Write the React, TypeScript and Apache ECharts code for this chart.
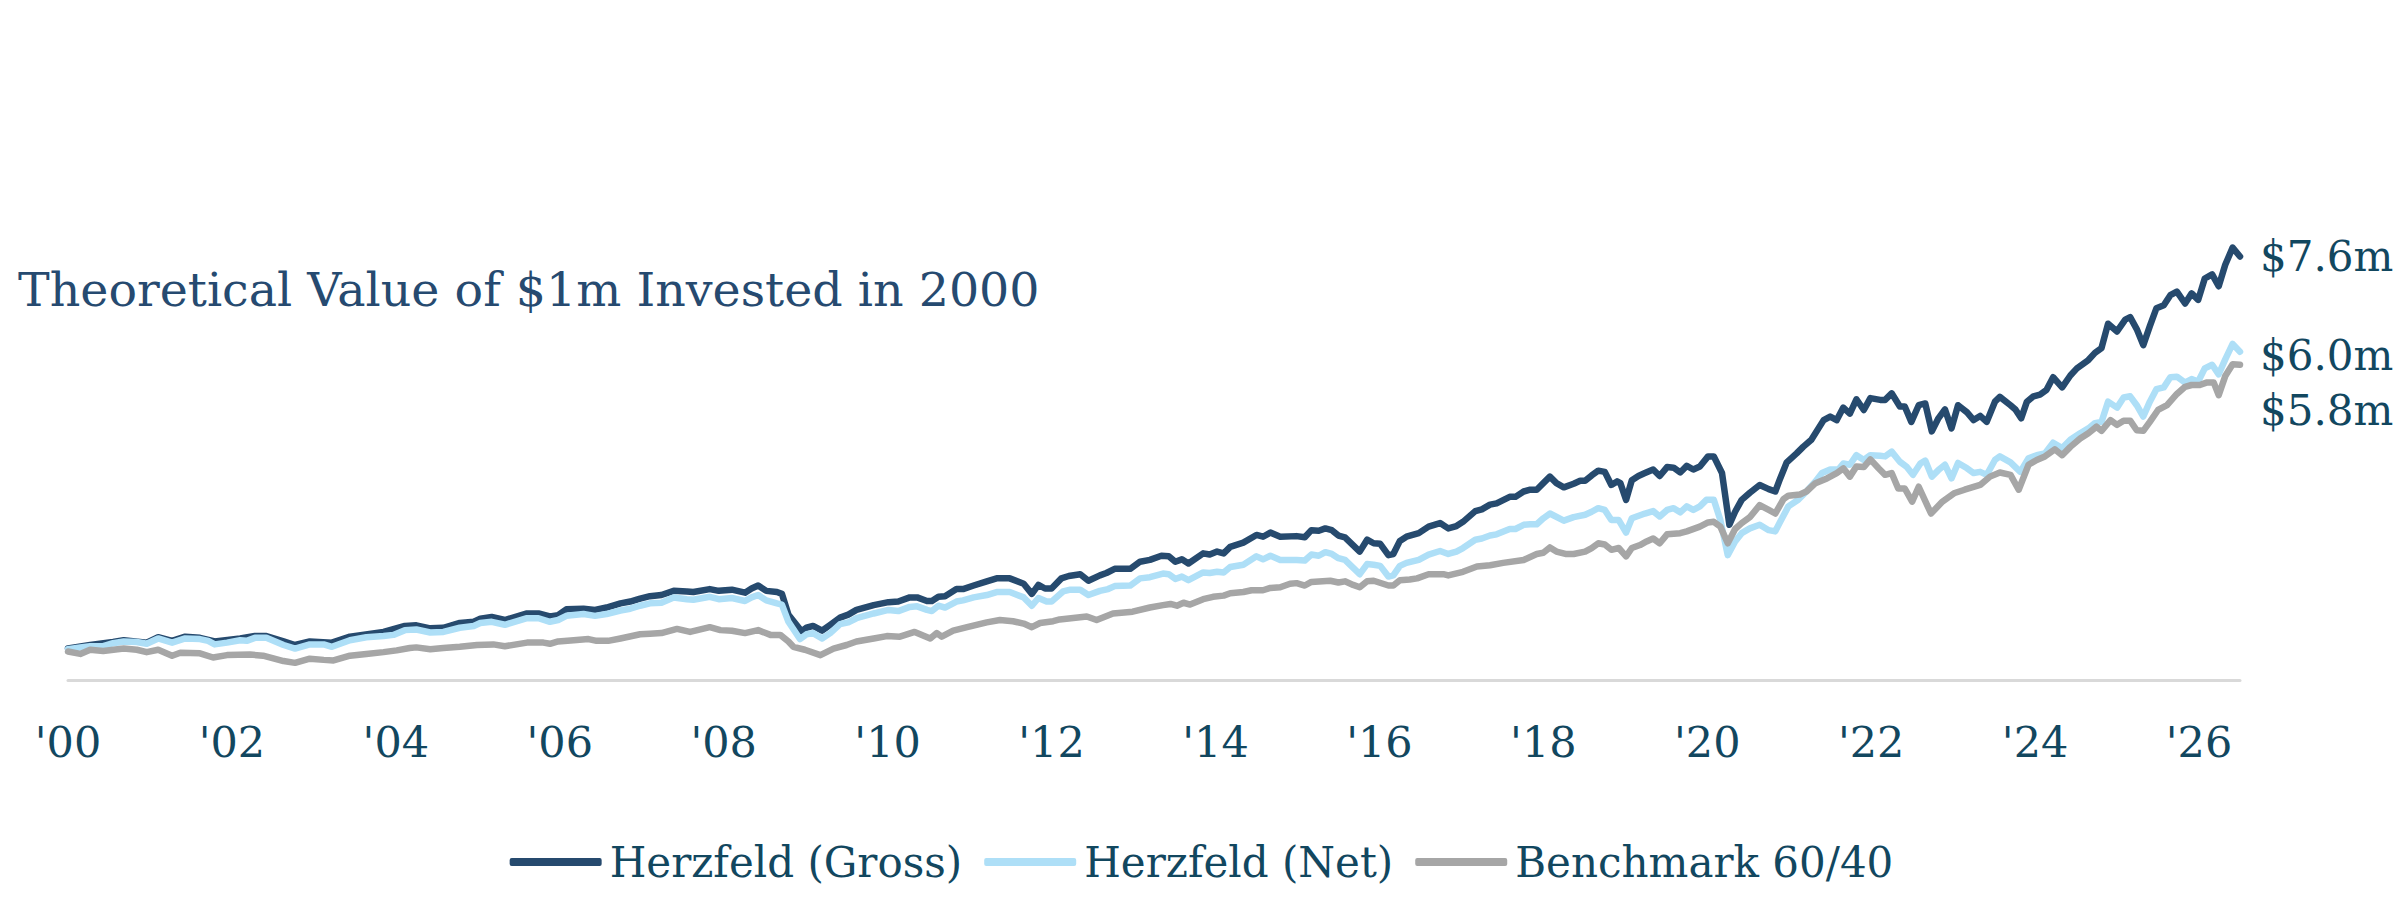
import React, { useEffect, useRef } from "react";
import * as echarts from "echarts";

const seriesNames = ["Herzfeld (Gross)", "Herzfeld (Net)", "Benchmark 60/40"];
const tickYears = [2000, 2002, 2004, 2006, 2008, 2010, 2012, 2014, 2016, 2018, 2020, 2022, 2024, 2026];
const titleText = "Theoretical Value of $1m Invested in 2000";

const gross: number[][] = [
  [2000.0, 0.99], [2000.27, 1.05], [2000.55, 1.1], [2000.68, 1.13], [2000.96, 1.09], [2001.1, 1.18], [2001.27, 1.12], [2001.43, 1.19], [2001.61, 1.17], [2001.79, 1.11],
  [2002.1, 1.16], [2002.28, 1.2], [2002.42, 1.2], [2002.63, 1.11], [2002.77, 1.05], [2002.95, 1.11], [2003.22, 1.09], [2003.44, 1.19], [2003.85, 1.27], [2004.11, 1.37],
  [2004.25, 1.38], [2004.42, 1.33], [2004.58, 1.34], [2004.78, 1.42], [2004.95, 1.44], [2005.03, 1.49], [2005.17, 1.52], [2005.33, 1.47], [2005.6, 1.58], [2005.74, 1.58],
  [2005.88, 1.53], [2005.98, 1.55], [2006.08, 1.65], [2006.29, 1.66], [2006.43, 1.64], [2006.57, 1.68], [2006.74, 1.75], [2006.86, 1.78], [2006.98, 1.83], [2007.1, 1.87],
  [2007.24, 1.89], [2007.39, 1.96], [2007.55, 1.95], [2007.63, 1.94], [2007.83, 1.99], [2007.94, 1.96], [2008.1, 1.98], [2008.26, 1.93], [2008.34, 2.0], [2008.42, 2.05],
  [2008.52, 1.96], [2008.65, 1.94], [2008.71, 1.91], [2008.79, 1.56], [2008.95, 1.28], [2009.01, 1.34], [2009.09, 1.37], [2009.2, 1.29], [2009.3, 1.39], [2009.42, 1.51],
  [2009.52, 1.56], [2009.62, 1.64], [2009.83, 1.72], [2010.01, 1.77], [2010.13, 1.78], [2010.27, 1.85], [2010.36, 1.85], [2010.48, 1.79], [2010.54, 1.79], [2010.62, 1.86],
  [2010.7, 1.87], [2010.84, 1.99], [2010.92, 1.99], [2011.05, 2.05], [2011.21, 2.12], [2011.33, 2.17], [2011.49, 2.17], [2011.66, 2.08], [2011.76, 1.91],
  [2011.84, 2.06], [2011.92, 2.0], [2012.0, 2.0], [2012.12, 2.17], [2012.21, 2.21], [2012.35, 2.24], [2012.45, 2.13], [2012.59, 2.22], [2012.67, 2.26], [2012.77, 2.33],
  [2012.96, 2.33], [2013.08, 2.45], [2013.2, 2.48], [2013.34, 2.55], [2013.43, 2.54], [2013.51, 2.45], [2013.59, 2.49], [2013.67, 2.42], [2013.85, 2.59], [2013.93, 2.57],
  [2014.02, 2.62], [2014.1, 2.59], [2014.18, 2.7], [2014.34, 2.77], [2014.5, 2.9], [2014.58, 2.87], [2014.67, 2.94], [2014.79, 2.87], [2014.99, 2.88], [2015.09, 2.86],
  [2015.17, 2.98], [2015.26, 2.97], [2015.34, 3.01], [2015.42, 2.98], [2015.5, 2.89], [2015.58, 2.86], [2015.76, 2.62], [2015.85, 2.82], [2015.93, 2.76], [2016.01, 2.75],
  [2016.11, 2.56], [2016.17, 2.58], [2016.25, 2.8], [2016.33, 2.87], [2016.48, 2.93], [2016.6, 3.04], [2016.74, 3.1], [2016.84, 3.01], [2016.94, 3.05], [2017.02, 3.12],
  [2017.17, 3.3], [2017.25, 3.33], [2017.35, 3.41], [2017.43, 3.43], [2017.59, 3.54], [2017.66, 3.54], [2017.76, 3.63], [2017.84, 3.66], [2017.92, 3.66], [2018.0, 3.77],
  [2018.08, 3.88], [2018.16, 3.77], [2018.25, 3.7], [2018.37, 3.76], [2018.45, 3.81], [2018.51, 3.81], [2018.59, 3.9], [2018.67, 3.98], [2018.75, 3.96], [2018.83, 3.74],
  [2018.9, 3.8], [2018.94, 3.77], [2019.01, 3.49], [2019.08, 3.82], [2019.16, 3.89], [2019.24, 3.94], [2019.34, 4.0], [2019.42, 3.89], [2019.51, 4.04], [2019.59, 4.03],
  [2019.67, 3.95], [2019.75, 4.06], [2019.83, 4.0], [2019.91, 4.05], [2020.01, 4.22], [2020.08, 4.22], [2020.18, 3.94], [2020.27, 3.07], [2020.34, 3.29], [2020.42, 3.49],
  [2020.52, 3.61], [2020.64, 3.74], [2020.75, 3.67], [2020.83, 3.63], [2020.89, 3.85], [2020.97, 4.12], [2021.09, 4.27], [2021.17, 4.38], [2021.27, 4.5], [2021.42, 4.83],
  [2021.5, 4.89], [2021.58, 4.83], [2021.66, 5.04], [2021.74, 4.94], [2021.82, 5.18], [2021.91, 5.0], [2021.99, 5.2], [2022.11, 5.17], [2022.17, 5.17], [2022.25, 5.28],
  [2022.35, 5.06], [2022.41, 5.06], [2022.49, 4.8], [2022.58, 5.08], [2022.66, 5.11], [2022.74, 4.64], [2022.82, 4.86], [2022.9, 5.01], [2022.98, 4.69], [2023.06, 5.08],
  [2023.17, 4.96], [2023.25, 4.83], [2023.33, 4.9], [2023.41, 4.8], [2023.51, 5.14], [2023.57, 5.22], [2023.7, 5.08], [2023.76, 5.01], [2023.83, 4.86], [2023.9, 5.14],
  [2023.98, 5.23], [2024.06, 5.26], [2024.14, 5.34], [2024.22, 5.55], [2024.33, 5.38], [2024.43, 5.58], [2024.51, 5.7], [2024.65, 5.84], [2024.73, 5.96], [2024.81, 6.04],
  [2024.89, 6.45], [2025.0, 6.32], [2025.1, 6.52], [2025.16, 6.56], [2025.24, 6.36], [2025.32, 6.09], [2025.4, 6.41], [2025.48, 6.71], [2025.57, 6.76], [2025.65, 6.93],
  [2025.73, 6.99], [2025.83, 6.79], [2025.91, 6.96], [2025.99, 6.85], [2026.07, 7.21], [2026.16, 7.28], [2026.24, 7.08], [2026.32, 7.44], [2026.41, 7.73], [2026.5, 7.58],
];

const net: number[][] = [
  [2000.0, 0.98], [2000.15, 1.01], [2000.27, 1.03], [2000.43, 1.03], [2000.55, 1.08], [2000.68, 1.11], [2000.84, 1.1], [2000.96, 1.07], [2001.1, 1.16], [2001.27, 1.09],
  [2001.43, 1.16], [2001.61, 1.15], [2001.71, 1.12], [2001.79, 1.06], [2001.94, 1.09], [2002.1, 1.13], [2002.18, 1.12], [2002.28, 1.17], [2002.42, 1.17], [2002.63, 1.05],
  [2002.77, 0.99], [2002.95, 1.06], [2003.12, 1.06], [2003.22, 1.02], [2003.44, 1.13], [2003.64, 1.18], [2003.85, 1.2], [2003.97, 1.22], [2004.11, 1.3], [2004.25, 1.31],
  [2004.42, 1.26], [2004.58, 1.27], [2004.78, 1.34], [2004.95, 1.37], [2005.03, 1.42], [2005.17, 1.44], [2005.33, 1.39], [2005.6, 1.5], [2005.74, 1.5],
  [2005.88, 1.44], [2005.98, 1.47], [2006.08, 1.54], [2006.29, 1.57], [2006.43, 1.54], [2006.57, 1.57], [2006.74, 1.63], [2006.86, 1.66], [2006.98, 1.71], [2007.1, 1.75],
  [2007.24, 1.76], [2007.39, 1.85], [2007.55, 1.82], [2007.63, 1.81], [2007.83, 1.86], [2007.94, 1.82], [2008.1, 1.84], [2008.26, 1.79], [2008.34, 1.85], [2008.42, 1.89],
  [2008.52, 1.8], [2008.65, 1.75], [2008.71, 1.73], [2008.79, 1.44], [2008.93, 1.15], [2009.01, 1.23], [2009.09, 1.25], [2009.2, 1.16], [2009.3, 1.25], [2009.42, 1.4],
  [2009.52, 1.43], [2009.62, 1.5], [2009.83, 1.58], [2010.01, 1.64], [2010.13, 1.62], [2010.27, 1.69], [2010.36, 1.7], [2010.48, 1.64], [2010.54, 1.62], [2010.62, 1.71],
  [2010.7, 1.68], [2010.84, 1.78], [2010.92, 1.8], [2011.05, 1.85], [2011.21, 1.89], [2011.33, 1.94], [2011.49, 1.94], [2011.66, 1.85], [2011.76, 1.71],
  [2011.84, 1.84], [2011.94, 1.78], [2012.0, 1.78], [2012.14, 1.95], [2012.23, 1.98], [2012.35, 1.98], [2012.45, 1.89], [2012.59, 1.96], [2012.69, 1.99], [2012.77, 2.04],
  [2012.96, 2.05], [2013.08, 2.17], [2013.2, 2.19], [2013.36, 2.25], [2013.43, 2.24], [2013.51, 2.16], [2013.59, 2.2], [2013.67, 2.14], [2013.85, 2.27], [2013.93, 2.26],
  [2014.02, 2.28], [2014.1, 2.27], [2014.18, 2.36], [2014.34, 2.4], [2014.5, 2.54], [2014.58, 2.49], [2014.67, 2.55], [2014.79, 2.48], [2014.99, 2.48], [2015.09, 2.47],
  [2015.17, 2.57], [2015.26, 2.55], [2015.34, 2.61], [2015.42, 2.58], [2015.5, 2.51], [2015.58, 2.48], [2015.76, 2.24], [2015.85, 2.41], [2015.93, 2.4], [2016.01, 2.38],
  [2016.11, 2.2], [2016.17, 2.22], [2016.25, 2.38], [2016.33, 2.43], [2016.48, 2.48], [2016.6, 2.57], [2016.74, 2.63], [2016.84, 2.58], [2016.94, 2.62], [2017.02, 2.68],
  [2017.17, 2.82], [2017.25, 2.84], [2017.35, 2.89], [2017.43, 2.91], [2017.59, 3.0], [2017.66, 3.0], [2017.76, 3.07], [2017.84, 3.08], [2017.92, 3.08], [2018.0, 3.18],
  [2018.08, 3.26], [2018.25, 3.14], [2018.37, 3.2], [2018.51, 3.24], [2018.59, 3.29], [2018.67, 3.35], [2018.75, 3.32], [2018.83, 3.15], [2018.92, 3.15], [2019.01, 2.94],
  [2019.08, 3.18], [2019.24, 3.26], [2019.34, 3.3], [2019.42, 3.21], [2019.51, 3.32], [2019.59, 3.35], [2019.67, 3.28], [2019.75, 3.38], [2019.83, 3.32], [2019.91, 3.38],
  [2019.99, 3.49], [2020.08, 3.49], [2020.16, 3.15], [2020.25, 2.56], [2020.34, 2.79], [2020.42, 2.93], [2020.52, 3.01], [2020.64, 3.07], [2020.75, 2.98], [2020.83, 2.96],
  [2020.89, 3.12], [2020.99, 3.38], [2021.11, 3.49], [2021.21, 3.63], [2021.32, 3.8], [2021.4, 3.94], [2021.5, 4.0], [2021.6, 4.0], [2021.66, 4.1], [2021.74, 4.08],
  [2021.82, 4.24], [2021.91, 4.16], [2021.99, 4.24], [2022.11, 4.23], [2022.17, 4.22], [2022.25, 4.3],
  [2022.35, 4.13], [2022.43, 4.05], [2022.51, 3.91], [2022.6, 4.1], [2022.66, 4.15], [2022.74, 3.88], [2022.82, 3.99], [2022.9, 4.08], [2022.98, 3.85], [2023.06, 4.11],
  [2023.17, 4.02], [2023.25, 3.94], [2023.33, 3.96], [2023.41, 3.91], [2023.51, 4.16], [2023.57, 4.22], [2023.7, 4.12], [2023.82, 3.96], [2023.92, 4.19], [2024.02, 4.24],
  [2024.12, 4.27], [2024.22, 4.45], [2024.33, 4.36], [2024.43, 4.5], [2024.55, 4.61], [2024.65, 4.69], [2024.73, 4.78], [2024.81, 4.8], [2024.89, 5.14], [2025.0, 5.04],
  [2025.08, 5.21], [2025.16, 5.23], [2025.24, 5.08], [2025.32, 4.89], [2025.4, 5.14], [2025.48, 5.35], [2025.57, 5.38], [2025.65, 5.55], [2025.73, 5.56], [2025.83, 5.46],
  [2025.91, 5.52], [2025.99, 5.48], [2026.07, 5.7], [2026.16, 5.76], [2026.24, 5.6], [2026.32, 5.85], [2026.41, 6.11], [2026.5, 5.98],
];

const benchmark: number[][] = [
  [2000.0, 0.94], [2000.15, 0.9], [2000.27, 0.97], [2000.43, 0.95], [2000.68, 0.99], [2000.84, 0.97], [2000.96, 0.93], [2001.1, 0.97], [2001.27, 0.87], [2001.37, 0.92],
  [2001.61, 0.91], [2001.77, 0.84], [2001.94, 0.88], [2002.22, 0.89], [2002.38, 0.87], [2002.63, 0.78], [2002.77, 0.75], [2002.95, 0.82], [2003.12, 0.8], [2003.24, 0.79],
  [2003.44, 0.87], [2003.64, 0.9], [2003.85, 0.93], [2004.01, 0.96], [2004.17, 1.0], [2004.25, 1.01], [2004.42, 0.98], [2004.58, 1.0], [2004.78, 1.02], [2004.99, 1.05],
  [2005.19, 1.06], [2005.33, 1.03], [2005.6, 1.09], [2005.8, 1.09],
  [2005.88, 1.07], [2005.98, 1.11], [2006.17, 1.13], [2006.35, 1.15], [2006.45, 1.12], [2006.59, 1.12], [2006.74, 1.16], [2006.98, 1.23], [2007.1, 1.24], [2007.24, 1.25],
  [2007.43, 1.32], [2007.59, 1.27], [2007.83, 1.35], [2007.96, 1.3], [2008.1, 1.29], [2008.26, 1.25], [2008.42, 1.3], [2008.57, 1.22], [2008.69, 1.22], [2008.79, 1.11],
  [2008.85, 1.02], [2008.99, 0.97], [2009.18, 0.88], [2009.34, 0.99], [2009.5, 1.05], [2009.62, 1.11], [2009.83, 1.16], [2009.99, 1.2], [2010.15, 1.19], [2010.33, 1.27],
  [2010.52, 1.16], [2010.6, 1.25], [2010.66, 1.19], [2010.8, 1.29], [2010.97, 1.35], [2011.21, 1.43], [2011.37, 1.47], [2011.53, 1.45], [2011.66, 1.41], [2011.76, 1.35],
  [2011.86, 1.42], [2012.02, 1.45], [2012.1, 1.48],
  [2012.43, 1.53], [2012.55, 1.47], [2012.75, 1.58], [2012.99, 1.61], [2013.2, 1.68], [2013.36, 1.72], [2013.45, 1.74], [2013.53, 1.71], [2013.61, 1.76], [2013.69, 1.73],
  [2013.85, 1.82], [2013.97, 1.86], [2014.1, 1.88], [2014.18, 1.92], [2014.34, 1.94], [2014.44, 1.97], [2014.58, 1.97], [2014.67, 2.01], [2014.79, 2.02], [2014.91, 2.08],
  [2014.99, 2.09], [2015.09, 2.05], [2015.17, 2.11], [2015.4, 2.13], [2015.5, 2.1], [2015.58, 2.12], [2015.68, 2.06], [2015.76, 2.02], [2015.85, 2.12], [2015.93, 2.13],
  [2016.11, 2.05], [2016.17, 2.05], [2016.25, 2.14], [2016.37, 2.15], [2016.46, 2.17], [2016.6, 2.24], [2016.78, 2.24], [2016.84, 2.22], [2017.02, 2.28], [2017.19, 2.37],
  [2017.35, 2.39], [2017.51, 2.43], [2017.76, 2.48], [2017.92, 2.58], [2018.0, 2.6], [2018.08, 2.69],
  [2018.16, 2.62], [2018.27, 2.58], [2018.37, 2.58], [2018.51, 2.62], [2018.59, 2.68], [2018.67, 2.76], [2018.75, 2.74], [2018.83, 2.65], [2018.92, 2.68], [2019.01, 2.54],
  [2019.08, 2.68], [2019.18, 2.73], [2019.26, 2.79], [2019.34, 2.84], [2019.42, 2.76], [2019.51, 2.91], [2019.67, 2.93], [2019.75, 2.96], [2019.91, 3.04], [2020.01, 3.11],
  [2020.08, 3.12], [2020.16, 3.04], [2020.25, 2.76], [2020.34, 3.0], [2020.42, 3.1], [2020.52, 3.2], [2020.64, 3.4], [2020.75, 3.32], [2020.83, 3.26], [2020.93, 3.5],
  [2020.99, 3.56], [2021.13, 3.58], [2021.21, 3.63], [2021.32, 3.77], [2021.46, 3.85], [2021.58, 3.94], [2021.66, 4.02], [2021.74, 3.88], [2021.82, 4.05], [2021.91, 4.04],
  [2021.99, 4.17], [2022.09, 4.02], [2022.17, 3.91], [2022.25, 3.94], [2022.33, 3.68], [2022.41, 3.68], [2022.5, 3.46], [2022.58, 3.71], [2022.73, 3.26], [2022.87, 3.46],
  [2023.01, 3.6], [2023.14, 3.66], [2023.33, 3.74], [2023.45, 3.88], [2023.57, 3.95], [2023.7, 3.91], [2023.8, 3.66], [2023.92, 4.08], [2024.02, 4.16], [2024.12, 4.22],
  [2024.24, 4.34], [2024.33, 4.24], [2024.43, 4.38], [2024.55, 4.52], [2024.65, 4.61], [2024.75, 4.72], [2024.81, 4.65], [2024.92, 4.83], [2025.0, 4.75], [2025.08, 4.82],
  [2025.16, 4.82], [2025.24, 4.66], [2025.32, 4.65], [2025.4, 4.8], [2025.5, 5.0], [2025.61, 5.08], [2025.73, 5.27], [2025.83, 5.39], [2025.91, 5.42], [2026.01, 5.42],
  [2026.09, 5.46], [2026.18, 5.46], [2026.24, 5.25], [2026.32, 5.57], [2026.41, 5.77], [2026.5, 5.76],
];

const FONT = "DejaVu Serif";
const TEXT_COLOR = "#12475f";
const TITLE_COLOR = "#264a70";
const COLORS = ["#264a6e", "#aedff7", "#a6a6a6"];
const LABEL_OFFSETS = [0, 4, 46];

export default function App() {
  const ref = useRef<HTMLDivElement>(null);

  useEffect(() => {
    if (!ref.current) return;
    const chart = echarts.init(ref.current, undefined, { renderer: "svg" });
    const datasets = [gross, net, benchmark];
    chart.setOption({
      animation: false,
      backgroundColor: "#ffffff",
      grid: { left: 68, right: 163, top: 231.5, bottom: 227.3, containLabel: false },
      graphic: [
        {
          type: "text",
          x: 18,
          y: 289,
          style: {
            text: titleText,
            fontFamily: FONT,
            fontSize: 47.5,
            fill: TITLE_COLOR,
            align: "left",
            verticalAlign: "middle",
          },
        },
      ],
      legend: {
        data: seriesNames,
        left: "center",
        top: 836,
        icon: "roundRect",
        itemWidth: 92,
        itemHeight: 8,
        itemGap: 22,
        textStyle: { fontFamily: FONT, fontSize: 42, color: TEXT_COLOR, padding: [0, 0, 0, 3] },
      },
      xAxis: {
        type: "value",
        min: 2000,
        max: 2026.5,
        interval: 2,
        axisLine: { show: true, onZero: false, lineStyle: { color: "#d9d9d9", width: 3 } },
        axisTick: { show: false },
        splitLine: { show: false },
        axisLabel: {
          show: true,
          margin: 39,
          fontFamily: FONT,
          fontSize: 43,
          lineHeight: 44,
          color: TEXT_COLOR,
          showMaxLabel: false,
          formatter: (v: number) =>
            tickYears.indexOf(v) >= 0 ? "'" + String(v).slice(2) : "",
        },
      },
      yAxis: {
        type: "value",
        min: 0.45,
        max: 8,
        show: false,
        splitLine: { show: false },
      },
      series: seriesNames.map((name, i) => ({
        name,
        type: "line",
        data: datasets[i],
        showSymbol: false,
        symbol: "none",
        z: 2 + i,
        lineStyle: { color: COLORS[i], width: 6.5, cap: "round", join: "round" },
        itemStyle: { color: COLORS[i] },
        emphasis: { disabled: true },
        endLabel: {
          show: true,
          distance: 20,
          offset: [0, LABEL_OFFSETS[i]],
          fontFamily: FONT,
          fontSize: 42,
          color: TEXT_COLOR,
          formatter: (p: any) => "$" + Number(p.value[1]).toFixed(1) + "m",
        },
      })),
    });
    return () => chart.dispose();
  }, []);

  return (
    <div
      ref={ref}
      style={{ position: "fixed", left: 0, top: 0, width: 2403, height: 908, background: "#fff" }}
    />
  );
}
